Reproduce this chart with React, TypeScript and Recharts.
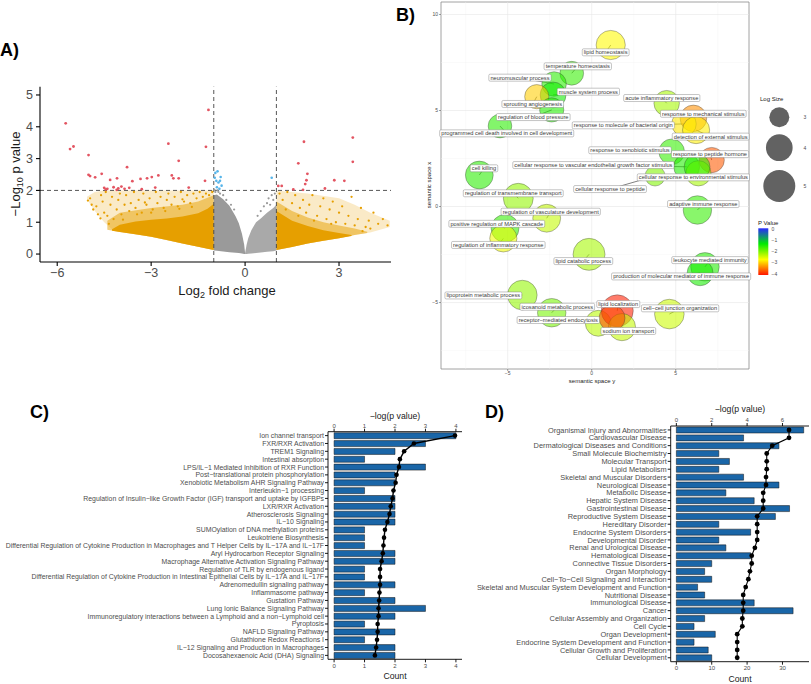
import React from "react";
import {
  ComposedChart,
  Scatter,
  Area,
  Line,
  Bar,
  XAxis,
  YAxis,
  ZAxis,
  ReferenceLine,
  ReferenceArea,
} from "recharts";

const FONT = '"Liberation Sans", Arimo, Arial, Helvetica, sans-serif';
const TICK_COL = "#4d4d4d";
const ORANGE = "#E69F00";
const GREY = "#9a9a9a";
const RED = "#E35562";
const BLUE = "#56B4E9";
const BAR_BLUE = "#1a66a8";

/* ---------------- Panel A : volcano ---------------- */
const volcanoXTicks = [-6, -3, 0, 3];
const volcanoYTicks = [0, 1, 2, 3, 4, 5];
const volcanoXDomain = [-6.55, 4.66];
const volcanoYDomain = [-0.25, 5.26];
const foldCutoffs = [-1, 1];
const pCutoff = 2;

// significant (red) genes: [log2FC, -log10 p]
const sigGenes: [number, number][] = [
  [-5.73, 4.11], [-5.59, 3.3], [-5.48, 3.38], [-5.0, 3.11], [-5.0, 2.49], [-4.95, 2.45],
  [-4.79, 2.41], [-4.58, 2.52], [-3.77, 2.73], [-4.31, 2.33], [-4.09, 2.38], [-3.6, 2.29],
  [-3.34, 2.36], [-3.13, 2.38], [-2.98, 2.42], [-2.77, 2.47], [-2.45, 3.47], [-2.34, 2.47],
  [-2.29, 2.38], [-2.12, 2.93], [-2.12, 2.38], [-1.17, 4.53], [-1.25, 3.37], [-1.28, 2.3],
  [-4.5, 2.08], [-4.4, 2.05], [-4.2, 2.1], [-4.05, 2.06], [-3.95, 2.12], [-3.85, 2.05],
  [-3.7, 2.08], [-2.87, 2.09], [-1.8, 2.09], [-4.45, 2.03], [-4.1, 2.02], [-3.3, 2.04],
  [1.88, 3.53], [3.44, 3.66], [3.44, 2.9], [1.7, 2.85], [1.99, 2.52], [1.96, 2.32],
  [2.85, 2.32], [3.17, 2.3], [1.92, 2.2], [1.06, 2.14], [1.17, 2.14], [2.55, 2.06],
  [1.54, 2.03], [1.85, 2.02],
];
// p-significant but small fold change (blue)
const pOnlyGenes: [number, number][] = [
  [-0.95, 2.55], [-0.88, 2.6], [-0.92, 2.3], [-0.85, 2.25], [-0.8, 2.3], [-0.75, 2.15],
  [-0.9, 2.1], [-0.82, 2.05], [-0.97, 2.4], [-0.78, 2.42], [0.85, 2.4],
];
// fold-change-only genes, sparse upper part of the cloud (orange)
const fcOnlySparse: [number, number][] = [
  [-4.95, 1.75], [-4.9, 1.55], [-4.85, 1.4], [-4.75, 1.5], [-4.6, 1.85], [-4.55, 1.65],
  [-4.5, 1.3], [-4.45, 1.95], [-4.4, 1.2], [-4.3, 1.55], [-4.25, 1.8], [-4.2, 1.1],
  [-4.1, 1.4], [-4.05, 1.7], [-4.0, 1.9], [-3.95, 1.25], [-3.85, 1.55], [-3.8, 1.85],
  [-3.7, 1.35], [-3.65, 1.6], [-3.55, 1.95], [-3.5, 1.45], [-3.4, 1.7], [-3.3, 1.3],
  [-3.25, 1.9], [-3.15, 1.55], [-3.05, 1.75], [-2.95, 1.4], [-2.85, 1.95], [-2.8, 1.6],
  [-2.7, 1.8], [-2.6, 1.45], [-2.5, 1.7], [-2.45, 1.9], [-2.35, 1.55], [-2.25, 1.8],
  [-2.15, 1.5], [-2.05, 1.95], [-1.95, 1.65], [-1.85, 1.85], [-1.75, 1.6], [-1.65, 1.9],
  [-1.55, 1.75], [-1.45, 1.95], [-1.35, 1.8], [-1.25, 1.9], [-1.15, 1.85], [-1.05, 1.95],
  [-4.62, 1.12], [-4.35, 0.95], [-3.9, 1.08], [-3.45, 1.25], [-3.0, 1.3], [-2.55, 1.35],
  [-2.1, 1.42], [-1.7, 1.48], [-4.7, 1.25], [-5.02, 1.68], [-3.2, 1.62], [-2.0, 1.72],
  [1.1, 1.9], [1.2, 1.7], [1.35, 1.95], [1.5, 1.6], [1.6, 1.85], [1.75, 1.45],
  [1.85, 1.7], [1.95, 1.3], [2.05, 1.55], [2.15, 1.85], [2.3, 1.2], [2.4, 1.5],
  [2.5, 1.75], [2.6, 1.1], [2.7, 1.4], [2.8, 1.65], [2.9, 1.0], [3.0, 1.3],
  [3.1, 1.5], [3.2, 0.95], [3.3, 1.2], [3.4, 1.8], [3.5, 0.9], [3.6, 1.1],
  [3.7, 1.45], [3.85, 0.85], [3.95, 1.05], [4.1, 1.3], [4.25, 0.95], [4.4, 1.1],
  [4.55, 0.9], [3.75, 0.72], [4.0, 0.8], [1.3, 1.4], [1.7, 1.2], [2.2, 1.05], [2.75, 0.95],
];
// non-significant sparse (grey)
const nsSparse: [number, number][] = [
  [-0.95, 1.95], [-0.88, 2.0], [-0.8, 1.9], [-0.7, 1.85], [-0.6, 1.7], [-0.45, 1.55],
  [-0.35, 1.4], [-0.98, 2.02], [-0.85, 1.95], [0.5, 1.35], [0.6, 1.5], [0.7, 1.6],
  [0.75, 1.75], [0.85, 1.85], [0.9, 1.7], [0.95, 1.9], [0.4, 1.2], [0.8, 1.55],
];

// dense point-cloud envelopes: [log2FC, lower, upper]
const fcLeftSparseBand: [number, number, number][] = [
  [-5.05, 1.72, 1.8], [-4.8, 1.35, 1.95], [-4.5, 1.0, 2.0], [-4.2, 0.74, 2.0],
  [-3.5, 0.62, 2.0], [-3.0, 0.54, 2.0], [-2.0, 0.33, 2.0], [-1.0, 0.13, 2.0],
];
const fcLeftMidBand: [number, number, number][] = [
  [-4.4, 0.76, 1.05], [-4.0, 0.69, 1.3], [-3.0, 0.54, 1.45], [-2.0, 0.33, 1.55],
  [-1.5, 0.23, 1.65], [-1.0, 0.13, 1.85],
];
const fcLeftDenseBand: [number, number, number][] = [
  [-4.25, 0.73, 0.78], [-4.0, 0.69, 0.92], [-3.5, 0.62, 1.02], [-3.0, 0.54, 1.08],
  [-2.5, 0.44, 1.12], [-2.0, 0.33, 1.18], [-1.5, 0.23, 1.28], [-1.2, 0.17, 1.42],
  [-1.0, 0.13, 1.58],
];
const fcRightSparseBand: [number, number, number][] = [
  [1.0, 0.13, 2.0], [2.0, 0.33, 1.9], [3.0, 0.5, 1.75], [3.5, 0.6, 1.55],
  [4.0, 0.68, 1.3], [4.62, 0.85, 1.05],
];
const fcRightMidBand: [number, number, number][] = [
  [1.0, 0.13, 1.65], [1.5, 0.22, 1.35], [2.0, 0.33, 1.15], [2.5, 0.42, 1.0],
  [3.0, 0.5, 0.9], [3.5, 0.6, 0.8], [3.9, 0.66, 0.7],
];
const fcRightDenseBand: [number, number, number][] = [
  [1.0, 0.13, 1.35], [1.5, 0.22, 1.05], [2.0, 0.33, 0.88], [2.5, 0.42, 0.75],
  [3.0, 0.5, 0.66], [3.4, 0.57, 0.6],
];
const nsLeftBand: [number, number, number][] = [
  [-1.0, 0.11, 1.85], [-0.9, 0.1, 1.87], [-0.7, 0.08, 1.72], [-0.5, 0.06, 1.52],
  [-0.3, 0.04, 1.18], [-0.2, 0.03, 0.97], [-0.1, 0.015, 0.64], [-0.03, 0.005, 0.3],
  [0, 0, 0.03],
];
const nsRightBand: [number, number, number][] = [
  [0, 0, 0.03], [0.05, 0.005, 0.3], [0.1, 0.01, 0.5], [0.2, 0.02, 0.75],
  [0.35, 0.035, 1.0], [0.5, 0.05, 1.12], [0.7, 0.07, 1.3], [0.9, 0.09, 1.45],
  [1.0, 0.11, 1.55],
];

const toPts = (a: [number, number][]) => a.map(([lfc, logp]) => ({ lfc, logp }));
const toBand = (a: [number, number, number][]) => a.map(([lfc, lo, hi]) => ({ lfc, band: [lo, hi] }));

/* ---------------- Panel B : REVIGO bubbles ---------------- */
const goTerms = [
  "lipid homeostasis", "temperature homeostasis", "neuromuscular process", "muscle system process",
  "sprouting angiogenesis", "regulation of blood pressure", "programmed cell death involved in cell development",
  "acute inflammatory response", "response to mechanical stimulus", "response to molecule of bacterial origin",
  "detection of external stimulus", "response to xenobiotic stimulus", "response to peptide hormone",
  "cellular response to vascular endothelial growth factor stimulus", "cellular response to environmental stimulus",
  "cellular response to peptide", "cell killing", "regulation of transmembrane transport",
  "regulation of vasculature development", "positive regulation of MAPK cascade",
  "regulation of inflammatory response", "adaptive immune response", "lipid catabolic process",
  "leukocyte mediated immunity", "production of molecular mediator of immune response",
  "lipoprotein metabolic process", "icosanoid metabolic process", "receptor-mediated endocytosis",
  "lipid localization", "sodium ion transport", "cell-cell junction organization", "", "",
];
const semX = [1.13, -1.19, -2.24, -2.3, -3.27, -2.38, -5.46, 4.46, 6.05, 5.49, 6.21, 4.76, 7.14, 5.65, 6.35, 3.77, -6.69, -4.37, -2.68, -5.16, -5.26, 6.29, -0.16, 6.74, 6.45, -4.13, -2.38, 0.39, 1.52, 1.8, 4.62, 1.21, 6.27];
const semY = [8.41, 6.94, 6.38, 5.81, 5.72, 5.03, 4.19, 5.38, 4.59, 4.3, 3.98, 2.85, 2.42, 2.07, 1.73, 1.59, 1.64, 0.43, -0.61, -1.14, -1.66, -0.18, -2.49, -3.14, -3.45, -4.61, -5.53, -6.08, -5.43, -6.28, -5.6, -5.81, 2.06];
const logSize = [4.8, 3.36, 3.56, 3.89, 3.47, 3.47, 3.33, 3.79, 4.06, 3.56, 4.23, 3.82, 3.73, 3.89, 3.73, 2.54, 4.41, 5.0, 4.41, 4.41, 4.23, 4.6, 5.65, 4.6, 3.89, 4.92, 4.6, 3.89, 5.65, 4.23, 4.92, 3.89, 3.89];
const logPval = [-2.7, -1.6, -1.55, -1.4, -2.95, -1.5, -1.55, -2.2, -3.3, -2.8, -2.75, -1.6, -3.6, -1.5, -2.2, -2.0, -1.55, -2.1, -2.35, -1.6, -2.6, -1.6, -2.2, -1.5, -1.45, -2.1, -1.95, -2.3, -3.95, -2.35, -2.4, -3.7, -1.55];
// repelled label anchors (semantic space units)
const labelX = [0.83, -0.83, -4.27, -0.2, -3.51, -3.48, -5.06, 4.17, 6.64, 1.88, 7.08, 2.28, 7.04, 0.1, 6.05, 1.09, -6.41, -4.67, -2.44, -5.65, -5.56, 6.64, -0.5, 7.04, 5.32, -6.45, -2.05, -1.99, 1.58, 2.18, 5.26];
const labelY = [8.03, 7.3, 6.71, 5.98, 5.34, 4.66, 3.81, 5.65, 4.83, 4.23, 3.64, 2.93, 2.73, 2.16, 1.52, 0.91, 1.99, 0.69, -0.27, -0.9, -2.0, 0.13, -2.84, -2.79, -3.64, -4.63, -5.22, -5.91, -5.08, -6.48, -5.3];
const semTicksX = [-5, 0, 5];
const semTicksY = [-5, 0, 5, 10];
const semMinorX = [-7.5, -2.5, 2.5, 7.5];
const semMinorY = [-7.5, -2.5, 2.5, 7.5];
const semXDomain = [-8.97, 9.36];
const semYDomain = [-8.46, 10.65];
const sizeLegendValues = [3, 4, 5];
const pLegendValues = [0, -1, -2, -3, -4];

const bubbleData = goTerms.map((term, i) => ({ term, sx: semX[i], sy: semY[i], logSize: logSize[i], logP: logPval[i] }));
const labelData = labelX.map((lx, i) => ({ term: goTerms[i], sx: lx, sy: labelY[i] }));

/* ---------------- Panel C : canonical pathways ---------------- */
const pathwayNames = [
  "Ion channel transport", "FXR/RXR Activation", "TREM1 Signaling", "Intestinal absorption",
  "LPS/IL-1 Mediated Inhibition of RXR Function", "Post-translational protein phosphorylation",
  "Xenobiotic Metabolism AHR Signaling Pathway", "Interleukin-1 processing",
  "Regulation of Insulin-like Growth Factor (IGF) transport and uptake by IGFBPs",
  "LXR/RXR Activation", "Atherosclerosis Signaling", "IL-10 Signaling",
  "SUMOylation of DNA methylation proteins", "Leukotriene Biosynthesis",
  "Differential Regulation of Cytokine Production in Macrophages and T Helper Cells by IL-17A and IL-17F",
  "Aryl Hydrocarbon Receptor Signaling", "Macrophage Alternative Activation Signaling Pathway",
  "Regulation of TLR by endogenous ligand",
  "Differential Regulation of Cytokine Production in Intestinal Epithelial Cells by IL-17A and IL-17F",
  "Adrenomedullin signaling pathway", "Inflammasome pathway", "Gustation Pathway",
  "Lung Ionic Balance Signaling Pathway",
  "Immunoregulatory interactions between a Lymphoid and a non-Lymphoid cell", "Pyroptosis",
  "NAFLD Signaling Pathway", "Glutathione Redox Reactions I",
  "IL-12 Signaling and Production in Macrophages", "Docosahexaenoic Acid (DHA) Signaling",
];
const pathwayCounts = [4, 3, 2, 1, 3, 2, 2, 1, 2, 2, 2, 2, 1, 1, 1, 2, 2, 1, 1, 2, 1, 2, 3, 2, 1, 2, 1, 2, 2];
const pathwayLogP = [3.97, 2.62, 2.3, 2.16, 2.13, 2.05, 2.02, 1.95, 1.92, 1.86, 1.82, 1.75, 1.67, 1.64, 1.62, 1.6, 1.56, 1.51, 1.51, 1.51, 1.49, 1.48, 1.46, 1.46, 1.43, 1.43, 1.41, 1.38, 1.34];
const pathwayCountTicks = [0, 1, 2, 3, 4];
const pathwayLogPTicks = [0, 1, 2, 3, 4];
const pathwayData = pathwayNames.map((name, i) => ({ name, count: pathwayCounts[i], logp: pathwayLogP[i] }));

/* ---------------- Panel D : diseases & functions ---------------- */
const diseaseNames = [
  "Organismal Injury and Abnormalities", "Cardiovascular Disease", "Dermatological Diseases and Conditions",
  "Small Molecule Biochemistry", "Molecular Transport", "Lipid Metabolism", "Skeletal and Muscular Disorders",
  "Neurological Disease", "Metabolic Disease", "Hepatic System Disease", "Gastrointestinal Disease",
  "Reproductive System Disease", "Hereditary Disorder", "Endocrine System Disorders", "Developmental Disorder",
  "Renal and Urological Disease", "Hematological Disease", "Connective Tissue Disorders", "Organ Morphology",
  "Cell-To-Cell Signaling and Interaction", "Skeletal and Muscular System Development and Function",
  "Nutritional Disease", "Immunological Disease", "Cancer", "Cellular Assembly and Organization", "Cell Cycle",
  "Organ Development", "Endocrine System Development and Function", "Cellular Growth and Proliferation",
  "Cellular Development",
];
const diseaseCounts = [36, 19, 29, 12, 15, 12, 19, 29, 14, 22, 32, 28, 12, 21, 12, 14, 21, 10, 8, 10, 6, 8, 22, 33, 8, 5, 11, 5, 9, 10];
const diseaseLogP = [6.37, 6.37, 5.42, 5.11, 5.11, 5.11, 5.07, 5.07, 4.91, 4.91, 4.91, 4.57, 4.57, 4.57, 4.57, 4.44, 4.26, 4.26, 4.16, 4.07, 3.92, 3.78, 3.78, 3.78, 3.73, 3.73, 3.44, 3.44, 3.44, 3.44];
const diseaseCountTicks = [0, 10, 20, 30];
const diseaseLogPTicks = [0, 2, 4, 6];
const diseaseData = diseaseNames.map((name, i) => ({ name, count: diseaseCounts[i], logp: diseaseLogP[i] }));

/* ---------------- helpers ---------------- */
const toMinus = (v: any) => String(v).replace(/-/g, "\u2212");

let measureCtx: CanvasRenderingContext2D | null = null;
function textWidth(t: string, size: number) {
  if (!measureCtx && typeof document !== "undefined") {
    measureCtx = document.createElement("canvas").getContext("2d");
  }
  if (!measureCtx) return t.length * size * 0.5;
  measureCtx.font = `${size}px "Liberation Sans", Arial, sans-serif`;
  return measureCtx.measureText(t).width;
}

const pStops: [number, number[]][] = [
  [0, [40, 40, 255]],
  [-4 / 3, [0, 235, 0]],
  [-8 / 3, [255, 255, 0]],
  [-4, [255, 20, 0]],
];
function pColor(p: number) {
  const v = Math.max(-4, Math.min(0, p));
  for (let i = 0; i < pStops.length - 1; i++) {
    const [a, ca] = pStops[i];
    const [b, cb] = pStops[i + 1];
    if (v <= a && v >= b) {
      const t = (a - v) / (a - b);
      const c = ca.map((x, k) => Math.round(x + (cb[k] - x) * t));
      return `rgb(${c[0]},${c[1]},${c[2]})`;
    }
  }
  return "rgb(255,20,0)";
}

const dotShape = (color: string, r: number) => (p: any) =>
  <circle cx={p.cx} cy={p.cy} r={r} fill={color} />;

const bubbleShape = (p: any) => {
  const r = p.width ? p.width / 2 : 10;
  return (
    <circle cx={p.cx} cy={p.cy} r={r} fill={pColor(p.payload.logP)} fillOpacity={0.58}
      stroke="#333" strokeOpacity={0.7} strokeWidth={0.5} />
  );
};

const labelShape = (p: any) => {
  const t = toMinus(p.payload.term);
  const fs = 5.7;
  const w = textWidth(t, fs) + 3.2;
  const h = 7;
  return (
    <g>
      <rect x={p.cx - w / 2} y={p.cy - h / 2} width={w} height={h} rx={1.3}
        fill="#fff" stroke="#7d7d7d" strokeWidth={0.45} />
      <text x={p.cx} y={p.cy + fs * 0.36} textAnchor="middle" fontSize={fs} fill="#3a3a3a">{t}</text>
    </g>
  );
};

const categoryTick = (fs: number) => (p: any) => (
  <text x={p.x} y={p.y} dy={fs * 0.36} textAnchor="end" fontSize={fs} fill={TICK_COL}>
    {toMinus(p.payload.value)}
  </text>
);

/* ---------------- panels ---------------- */
function VolcanoPanel() {
  const axisStyle = { stroke: "#000", strokeWidth: 1.1 };
  return (
    <ComposedChart width={391} height={310} margin={{ top: 86.7, right: 0, bottom: 0, left: 0 }}>
      <XAxis type="number" dataKey="lfc" domain={volcanoXDomain} ticks={volcanoXTicks} allowDataOverflow
        height={48} tickSize={4} tickMargin={2.5} tick={{ fontSize: 12.5, fill: TICK_COL }}
        tickFormatter={toMinus} axisLine={axisStyle} tickLine={axisStyle} />
      <YAxis type="number" dataKey="logp" domain={volcanoYDomain} ticks={volcanoYTicks} allowDataOverflow
        width={40} tickSize={4} tickMargin={3} tick={{ fontSize: 12.5, fill: TICK_COL }}
        axisLine={axisStyle} tickLine={axisStyle} />
      <Area data={toBand(fcLeftSparseBand)} dataKey="band" type="linear" fill={ORANGE} fillOpacity={0.22} stroke="none" isAnimationActive={false} />
      <Area data={toBand(fcLeftMidBand)} dataKey="band" type="linear" fill={ORANGE} fillOpacity={0.5} stroke="none" isAnimationActive={false} />
      <Area data={toBand(fcLeftDenseBand)} dataKey="band" type="linear" fill={ORANGE} fillOpacity={1} stroke="none" isAnimationActive={false} />
      <Area data={toBand(fcRightSparseBand)} dataKey="band" type="linear" fill={ORANGE} fillOpacity={0.22} stroke="none" isAnimationActive={false} />
      <Area data={toBand(fcRightMidBand)} dataKey="band" type="linear" fill={ORANGE} fillOpacity={0.5} stroke="none" isAnimationActive={false} />
      <Area data={toBand(fcRightDenseBand)} dataKey="band" type="linear" fill={ORANGE} fillOpacity={1} stroke="none" isAnimationActive={false} />
      <Area data={toBand(nsLeftBand)} dataKey="band" type="linear" fill={GREY} fillOpacity={1} stroke="none" isAnimationActive={false} />
      <Area data={toBand(nsRightBand)} dataKey="band" type="linear" fill={GREY} fillOpacity={0.85} stroke="none" isAnimationActive={false} />
      <Scatter data={toPts(fcOnlySparse)} shape={dotShape(ORANGE, 1.15)} isAnimationActive={false} />
      <Scatter data={toPts(nsSparse)} shape={dotShape(GREY, 1.1)} isAnimationActive={false} />
      <Scatter data={toPts(pOnlyGenes)} shape={dotShape(BLUE, 1.3)} isAnimationActive={false} />
      <Scatter data={toPts(sigGenes)} shape={dotShape(RED, 1.4)} isAnimationActive={false} />
      {foldCutoffs.map((c) => (
        <ReferenceLine key={c} x={c} stroke="#444" strokeWidth={0.9} strokeDasharray="4 3" />
      ))}
      <ReferenceLine y={pCutoff} stroke="#444" strokeWidth={0.9} strokeDasharray="4 3" />
    </ComposedChart>
  );
}

function BubblePanel() {
  const tickStyle = { stroke: "#444", strokeWidth: 0.5 };
  return (
    <ComposedChart width={411} height={390} margin={{ top: 2, right: 62, bottom: 0, left: 0 }}>
      <XAxis type="number" dataKey="sx" domain={semXDomain} ticks={semTicksX} height={21}
        tickSize={2} tickMargin={0} tick={{ fontSize: 5, fill: TICK_COL }} tickFormatter={toMinus}
        axisLine={false} tickLine={tickStyle} />
      <YAxis type="number" dataKey="sy" domain={semYDomain} ticks={semTicksY} width={41}
        tickSize={2} tickMargin={1} tick={{ fontSize: 5, fill: TICK_COL }} tickFormatter={toMinus}
        axisLine={false} tickLine={tickStyle} />
      <ZAxis type="number" dataKey="logSize" domain={[3, 5]} range={[314, 804]} />
      {semMinorX.map((v) => <ReferenceLine key={"mx" + v} x={v} stroke="#f3f3f3" strokeWidth={0.4} />)}
      {semMinorY.map((v) => <ReferenceLine key={"my" + v} y={v} stroke="#f3f3f3" strokeWidth={0.4} />)}
      {semTicksX.map((v) => <ReferenceLine key={"gx" + v} x={v} stroke="#e6e6e6" strokeWidth={0.6} />)}
      {semTicksY.map((v) => <ReferenceLine key={"gy" + v} y={v} stroke="#e6e6e6" strokeWidth={0.6} />)}
      <ReferenceArea x1={semXDomain[0]} x2={semXDomain[1]} y1={semYDomain[0]} y2={semYDomain[1]}
        fill="none" stroke="#8a8a8a" strokeWidth={0.8} />
      <Scatter data={bubbleData} shape={bubbleShape} isAnimationActive={false} />
      {labelData.map((l, i) => (
        <Line key={"seg" + i} data={[{ sx: semX[i], sy: semY[i] }, { sx: l.sx, sy: l.sy }]} dataKey="sy"
          stroke="#000" strokeWidth={0.5} dot={false} activeDot={false} isAnimationActive={false} />
      ))}
      <Scatter data={labelData} shape={labelShape} isAnimationActive={false} />
    </ComposedChart>
  );
}

function BarLinePanel(props: {
  data: any[]; width: number; height: number; yWidth: number; right: number;
  topH: number; bottomH: number; countDomain: number[]; pDomain: number[];
  countTicks: number[]; pTicks: number[]; catFont: number; lineW: number; dotR: number;
}) {
  const ax = { stroke: "#000", strokeWidth: 0.9 };
  return (
    <ComposedChart layout="vertical" width={props.width} height={props.height} data={props.data}
      margin={{ top: 0, right: props.right, bottom: 0, left: 0 }} barCategoryGap="13%">
      <XAxis xAxisId="count" type="number" orientation="bottom" domain={props.countDomain} ticks={props.countTicks}
        allowDataOverflow height={props.bottomH} tickSize={3} tickMargin={1}
        tick={{ fontSize: 6, fill: TICK_COL }} axisLine={ax} tickLine={ax} />
      <XAxis xAxisId="lp" type="number" orientation="top" domain={props.pDomain} ticks={props.pTicks}
        allowDataOverflow height={props.topH} tickSize={3} tickMargin={1}
        tick={{ fontSize: 6, fill: TICK_COL }} axisLine={ax} tickLine={ax} />
      <YAxis type="category" dataKey="name" width={props.yWidth} tickSize={3} tickMargin={1} interval={0}
        tick={categoryTick(props.catFont)} axisLine={ax} tickLine={ax} />
      <Bar xAxisId="count" dataKey="count" fill={BAR_BLUE} stroke="#111" strokeWidth={0.5} isAnimationActive={false} />
      <Line xAxisId="lp" dataKey="logp" type="linear" stroke="#000" strokeWidth={props.lineW}
        dot={{ r: props.dotR, fill: "#000", stroke: "#000", strokeWidth: 0 }} activeDot={false} isAnimationActive={false} />
    </ComposedChart>
  );
}

function Overlay() {
  const letter = { fontSize: 18, fontWeight: 700, fill: "#000" } as any;
  return (
    <svg width={811} height={684} style={{ position: "absolute", left: 0, top: 0, pointerEvents: "none" }}
      fontFamily={FONT}>
      <defs>
        <linearGradient id="pgrad" x1="0" y1="0" x2="0" y2="1">
          <stop offset="0%" stopColor={pColor(0)} />
          <stop offset="33.3%" stopColor={pColor(-4 / 3)} />
          <stop offset="66.7%" stopColor={pColor(-8 / 3)} />
          <stop offset="100%" stopColor={pColor(-4)} />
        </linearGradient>
      </defs>
      <text x={0} y={56} {...letter}>A)</text>
      <text x={396} y={21} {...letter}>B)</text>
      <text x={30} y={418} {...letter}>C)</text>
      <text x={485} y={418} {...letter}>D)</text>

      {/* Panel A axis titles */}
      <text x={227} y={295} textAnchor="middle" fontSize={13} fill="#1a1a1a">
        Log<tspan fontSize={9} dy={3}>2</tspan><tspan dy={-3}> fold change</tspan>
      </text>
      <text x={20} y={174} textAnchor="middle" fontSize={13} fill="#1a1a1a" transform="rotate(-90 20 174)">
        {"\u2212Log"}<tspan fontSize={9} dy={3}>10</tspan><tspan dy={-3}> p value</tspan>
      </text>

      {/* Panel B axis titles */}
      <text x={592} y={383} textAnchor="middle" fontSize={6} fill="#222">semantic space y</text>
      <text x={430.5} y={185} textAnchor="middle" fontSize={6} fill="#222" transform="rotate(-90 430.5 185)">semantic space x</text>

      {/* Panel B legends */}
      <text x={760} y={101} fontSize={6} fill="#222">Log Size</text>
      {sizeLegendValues.map((v, i) => {
        const area = 314 + (v - 3) * 245;
        const r = Math.sqrt(area / Math.PI);
        const cy = [117.3, 147.7, 186][i];
        return (
          <g key={v}>
            <circle cx={779.3} cy={cy} r={r} fill="#626262" />
            <text x={803.5} y={cy + 1.8} fontSize={5} fill={TICK_COL}>{v}</text>
          </g>
        );
      })}
      <text x={758} y={225} fontSize={6} fill="#222">P Value</text>
      <rect x={758.3} y={228.3} width={10} height={46.7} fill="url(#pgrad)" />
      {pLegendValues.map((v, i) => (
        <text key={v} x={771.5} y={230.5 + i * 11.3} fontSize={5} fill={TICK_COL}>{toMinus(v)}</text>
      ))}

      {/* Panel C / D titles */}
      <text x={395} y={419} textAnchor="middle" fontSize={8.7} fill="#1a1a1a">{"\u2212log(p value)"}</text>
      <text x={395} y={679} textAnchor="middle" fontSize={8.7} fill="#1a1a1a">Count</text>
      <text x={740} y={412} textAnchor="middle" fontSize={8.7} fill="#1a1a1a">{"\u2212log(p value)"}</text>
      <text x={740} y={682} textAnchor="middle" fontSize={8.7} fill="#1a1a1a">Count</text>
    </svg>
  );
}

export default function App() {
  return (
    <div style={{ position: "absolute", left: 0, top: 0, width: 811, height: 684, background: "#fff",
      fontFamily: FONT, overflow: "hidden" }}>
      <div style={{ position: "absolute", left: 0, top: 0 }}><VolcanoPanel /></div>
      <div style={{ position: "absolute", left: 400, top: 0 }}><BubblePanel /></div>
      <div style={{ position: "absolute", left: 0, top: 400 }}>
        <BarLinePanel data={pathwayData} width={470} height={284} yWidth={328} right={8}
          topH={31.7} bottomH={24.7} countDomain={[-0.2, 4.2]} pDomain={[-0.2, 4.2]}
          countTicks={pathwayCountTicks} pTicks={pathwayLogPTicks} catFont={6.9} lineW={1.4} dotR={2.3} />
      </div>
      <div style={{ position: "absolute", left: 470, top: 395 }}>
        <BarLinePanel data={diseaseData} width={341} height={289} yWidth={200.7} right={2}
          topH={31} bottomH={22.3} countDomain={[-1.6, 37.5]} pDomain={[-0.32, 7.5]}
          countTicks={diseaseCountTicks} pTicks={diseaseLogPTicks} catFont={7.4} lineW={1.1} dotR={2.4} />
      </div>
      <Overlay />
    </div>
  );
}
